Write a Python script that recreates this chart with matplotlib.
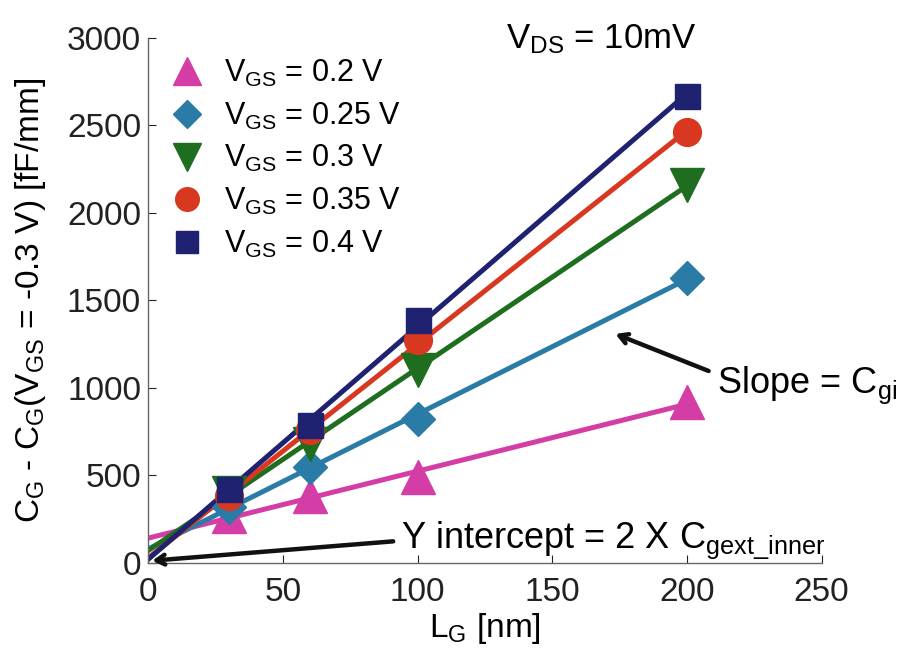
import numpy as np
import matplotlib
matplotlib.use("Agg")
import matplotlib.pyplot as plt

plt.rcParams['font.family'] = ['Liberation Sans', 'DejaVu Sans']
plt.rcParams['mathtext.fontset'] = 'custom'
plt.rcParams['mathtext.rm'] = 'Liberation Sans'
plt.rcParams['mathtext.it'] = 'Liberation Sans'

# Data
lg = [30, 60, 100, 200]
vgs_labels = ['0.2', '0.25', '0.3', '0.35', '0.4']
c_02 = [270, 380, 490, 920]
c_025 = [320, 549, 825, 1630]
c_03 = [400, 680, 1105, 2160]
c_035 = [380, 760, 1275, 2460]
c_04 = [420, 790, 1390, 2670]
series = [c_02, c_025, c_03, c_035, c_04]
colors = ['#D43DA6', '#2A7BA6', '#1F6E1F', '#D8381F', '#1E2270']
markers = ['^', 'D', 'v', 'o', 's']
msizes = [24, 17, 24, 20, 18]
fit_range = [0, 200]

fig = plt.figure(figsize=(9.14, 6.52), dpi=100)
ax = fig.add_axes([0.162, 0.1365, 0.737, 0.8055])

handles = []
for y, c, m, ms, lab in zip(series, colors, markers, msizes, vgs_labels):
    k, b = np.polyfit(lg, y, 1)
    xs = np.array(fit_range)
    ax.plot(xs, k * xs + b, color=c, lw=3.6, zorder=2)
    h, = ax.plot(lg, y, linestyle='none', marker=m, markersize=ms,
                 color=c, markeredgecolor=c, zorder=3,
                 label=r'V$_\mathrm{GS}$ = ' + lab + ' V')
    handles.append(h)

ax.set_xlim(0, 250)
ax.set_ylim(0, 3000)
ax.set_xticks([0, 50, 100, 150, 200, 250])
ax.set_yticks([0, 500, 1000, 1500, 2000, 2500, 3000])
ax.tick_params(direction='in', length=6, labelsize=24, colors='#222222',
               pad=5)
ax.tick_params(axis='x', pad=10)
for s in ['top', 'right']:
    ax.spines[s].set_visible(False)
for s in ['left', 'bottom']:
    ax.spines[s].set_color('#666666')
    ax.spines[s].set_linewidth(1.0)

ax.set_xlabel(r'L$_\mathrm{G}$ [nm]', fontsize=24, labelpad=2)
ax.set_ylabel(r'C$_\mathrm{G}$ - C$_\mathrm{G}$(V$_\mathrm{GS}$ = -0.3 V) [fF/mm]',
              fontsize=24, labelpad=14)

leg = ax.legend(handles=handles, loc='upper left', bbox_to_anchor=(-0.005, 0.985),
                frameon=False, fontsize=22, handletextpad=0.2,
                labelspacing=0.38, markerscale=0.85, borderaxespad=0)

ax.text(133, 2990, r'V$_\mathrm{DS}$ = 10mV', fontsize=25, va='center',
        ha='left')

ax.annotate('', xy=(172.5, 1314), xytext=(209, 1091),
            arrowprops=dict(arrowstyle='->,head_length=0.6,head_width=0.35',
                            color='#111111', lw=3.2))
ax.text(211, 1017, r'Slope = C$_\mathrm{gi}$', fontsize=26, va='center',
        ha='left')

ax.annotate('', xy=(0.5, 12), xytext=(92, 125),
            arrowprops=dict(arrowstyle='->,head_length=0.6,head_width=0.35',
                            color='#111111', lw=3.2))
ax.text(94, 130, r'Y intercept = 2 X C$_\mathrm{gext\_inner}$', fontsize=26,
        va='center', ha='left')

fig.savefig('out.png', dpi=100)
